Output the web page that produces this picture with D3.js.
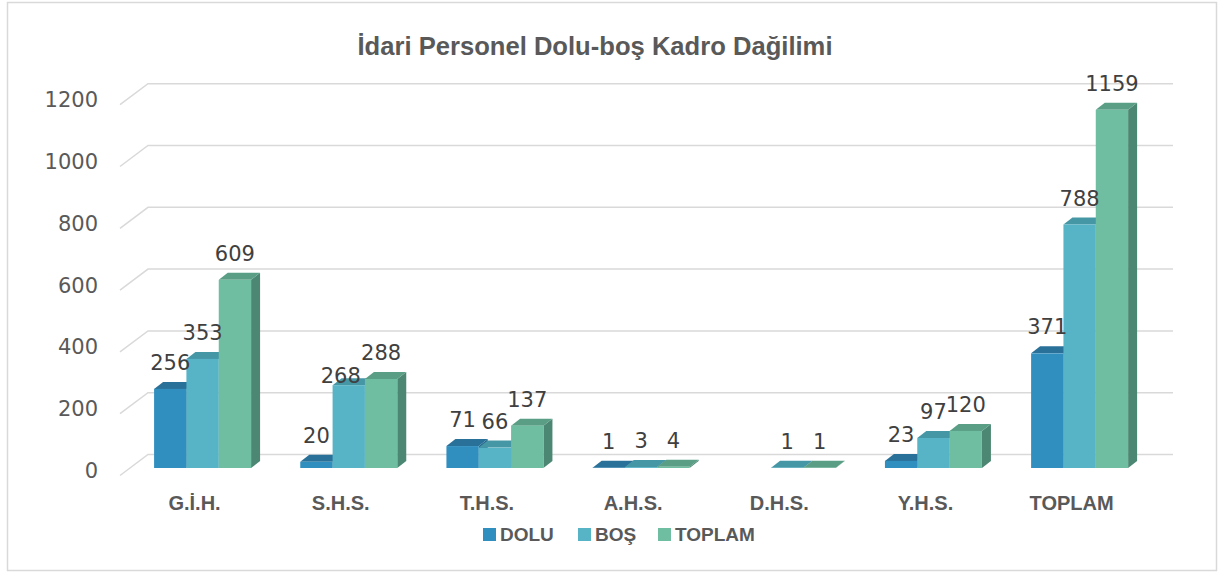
<!DOCTYPE html>
<html>
<head>
<meta charset="utf-8">
<script src="https://cdn.jsdelivr.net/npm/d3@7"></script>
<style>
  body { margin: 0; background: #fff; }
  svg { display: block; }
</style>
</head>
<body>
<script>
// chart data
var categories = ["G.İ.H.", "S.H.S.", "T.H.S.", "A.H.S.", "D.H.S.", "Y.H.S.", "TOPLAM"];
var seriesNames = ["DOLU", "BOŞ", "TOPLAM"];
var dolu = [256, 20, 71, 1, null, 23, 371];
var bos = [353, 268, 66, 3, 1, 97, 788];
var toplam = [609, 288, 137, 4, 1, 120, 1159];
var yTicks = [0, 200, 400, 600, 800, 1000, 1200];

var seriesValues = [dolu, bos, toplam];
var frontColors = ["#318FC0", "#57B3C6", "#70BEA2"];
var topColors = ["#2A7199", "#4697A6", "#5A9E86"];
var sideColors = ["#25688C", "#3F8794", "#4B8772"];

var width = 1222, height = 572;
var depthX = 9, depthY = -7;

var svg = d3.select("body").append("svg")
    .attr("width", width)
    .attr("height", height);

// border
svg.append("rect")
    .attr("x", 7.5).attr("y", 2.5)
    .attr("width", 1209).attr("height", 568)
    .attr("fill", "#fff")
    .attr("stroke", "#D9D9D9")
    .attr("stroke-width", 1.5);

// title
svg.append("text")
    .attr("x", 595).attr("y", 55)
    .attr("text-anchor", "middle")
    .attr("textLength", 475)
    .attr("lengthAdjust", "spacingAndGlyphs")
    .style("font-family", "'Liberation Sans Narrow', 'Arial Narrow', 'Liberation Sans', sans-serif")
    .style("font-weight", "bold")
    .style("font-size", "26px")
    .style("fill", "#595959")
    .text("İdari Personel Dolu-boş Kadro Dağilimi");

// scales
var y = d3.scaleLinear().domain([0, 1200]).range([468, 468 - 1200 * 0.309]);
var x = d3.scaleBand().domain(categories).range([129.5, 129.5 + 7 * 146.17]);
var groupWidth = 97;
var xs = d3.scaleBand().domain(seriesNames).range([0, groupWidth]);

// gridlines (back wall with depth stub)
var grid = svg.append("g");
yTicks.forEach(function(t) {
    var yb = y(t) - 13.5;
    grid.append("path")
        .attr("d", "M120," + (yb + 21) + "L148," + yb + "L1173," + yb)
        .attr("fill", "none")
        .attr("stroke", "#D9D9D9")
        .attr("stroke-width", 1.5);
});

// y tick labels
svg.append("g").selectAll("text")
    .data(yTicks)
    .enter().append("text")
    .attr("x", 98)
    .attr("y", function(d) { return y(d) + 4; })
    .attr("text-anchor", "end")
    .attr("dominant-baseline", "middle")
    .style("font-family", "'DejaVu Sans', sans-serif")
    .style("font-size", "21px")
    .style("fill", "#595959")
    .text(function(d) { return d; });

// bars
var bars = svg.append("g");
var labelData = [];
categories.forEach(function(c, ci) {
    var gx = x(c) + (x.step() - groupWidth) / 2;
    seriesNames.forEach(function(s, si) {
        var v = seriesValues[si][ci];
        if (v === null) return;
        var x0 = gx + xs(s), x1 = x0 + xs.bandwidth();
        var yt = y(v), yb = y(0);
        // side
        bars.append("path")
            .attr("d", "M" + x1 + "," + yt + "L" + (x1 + depthX) + "," + (yt + depthY) +
                "L" + (x1 + depthX) + "," + (yb + depthY) + "L" + x1 + "," + yb + "Z")
            .attr("fill", sideColors[si]);
        // top
        bars.append("path")
            .attr("d", "M" + x0 + "," + yt + "L" + (x0 + depthX) + "," + (yt + depthY) +
                "L" + (x1 + depthX) + "," + (yt + depthY) + "L" + x1 + "," + yt + "Z")
            .attr("fill", topColors[si]);
        // front
        bars.append("rect")
            .attr("x", x0).attr("y", yt)
            .attr("width", x1 - x0).attr("height", yb - yt)
            .attr("fill", frontColors[si]);

        labelData.push({ v: v, cx: (x0 + x1) / 2, y: yt - 19, ci: ci });
    });
});

// value labels, nudging a label down-left when it collides with its right neighbour
var labels = svg.append("g");
labelData.forEach(function(d, i) {
    var next = labelData[i + 1];
    var w = String(d.v).length * 13.3;
    if (next && next.ci === d.ci) {
        var nw = String(next.v).length * 13.3;
        var overlap = (d.cx + w / 2) - (next.cx - nw / 2);
        if (overlap > 4 && Math.abs(d.y - next.y) < 20) {
            d.cx -= 8;
            d.y += 17;
        }
    }
    labels.append("text")
        .attr("x", d.cx)
        .attr("y", d.y)
        .attr("text-anchor", "middle")
        .style("font-family", "'DejaVu Sans', sans-serif")
        .style("font-size", "21px")
        .style("fill", "#404040")
        .text(d.v);
});

// category labels
svg.append("g").selectAll("text")
    .data(categories)
    .enter().append("text")
    .attr("x", function(d) { return x(d) + x.step() / 2 - 8; })
    .attr("y", 510)
    .attr("text-anchor", "middle")
    .style("font-family", "'Liberation Sans Narrow', 'Arial Narrow', 'Liberation Sans', sans-serif")
    .style("font-weight", "bold")
    .style("font-size", "20px")
    .style("fill", "#595959")
    .text(function(d) { return d; });

// legend
var legendX = [483, 578, 658];
var legend = svg.append("g");
seriesNames.forEach(function(s, i) {
    legend.append("rect")
        .attr("x", legendX[i]).attr("y", 528)
        .attr("width", 13).attr("height", 13)
        .attr("fill", frontColors[i]);
    legend.append("text")
        .attr("x", legendX[i] + 17)
        .attr("y", 541)
        .style("font-family", "'Liberation Sans Narrow', 'Arial Narrow', 'Liberation Sans', sans-serif")
        .style("font-weight", "bold")
        .style("font-size", "19px")
        .style("fill", "#595959")
        .text(s);
});
</script>
</body>
</html>
